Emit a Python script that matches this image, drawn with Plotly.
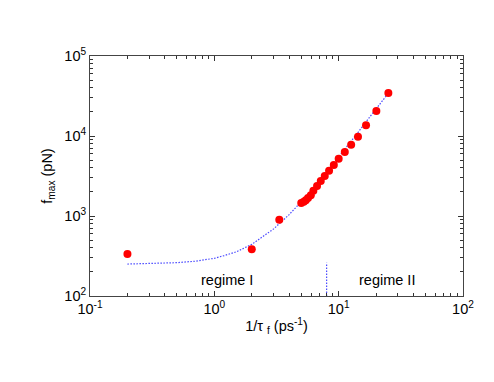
import math
import plotly.graph_objects as go

# data points (1/tau_f in ps^-1, f_max in pN)
inv_tau = [0.2, 2.0, 3.33, 5.0, 5.24, 5.44, 5.67, 5.97, 6.26, 6.70, 7.18, 7.73,
           8.37, 9.14, 10.0, 11.2, 12.6, 14.3, 16.6, 20.1, 25.1]
f_max = [335, 384, 899, 1454, 1509, 1571, 1679, 1815, 2070, 2371, 2738, 3162,
         3684, 4340, 5200, 6310, 7780, 9800, 13600, 20500, 34500]

# fitted curve
fit_x = [0.2, 0.3, 0.5, 0.7, 1.0, 1.2, 1.5, 2.0, 2.5, 3.0, 4.0, 5.0, 6.0, 7.0,
         8.0, 10.0, 12.0, 14.0, 17.0, 20.0, 25.0]
fit_y = [251, 254, 261, 272, 296, 320, 356, 442, 565, 690, 1042, 1500, 2040,
         2755, 3560, 5440, 7850, 10600, 15800, 21760, 34000]

# regime divider
div_x = [8.0, 8.0]
div_y = [100, 260]

x_tickvals = [0.1, 1, 10, 100]
x_ticktext = ["10<sup>-1</sup>", "10<sup>0</sup>", "10<sup>1</sup>", "10<sup>2</sup>"]
y_tickvals = [100, 1000, 10000, 100000]
y_ticktext = ["10<sup>2</sup>", "10<sup>3</sup>", "10<sup>4</sup>", "10<sup>5</sup>"]

regime_labels = ["regime I", "regime II"]
regime_x = [1.27, 24.7]
regime_y = [160, 160]

blue = "#4a4aff"
FONT = "Liberation Sans, Arial, sans-serif"
FS = 14.5

fig = go.Figure()
fig.add_trace(go.Scatter(x=fit_x, y=fit_y, mode="lines",
                         line=dict(color=blue, width=1.2, dash="1.5px,1.5px"),
                         showlegend=False, hoverinfo="skip"))
fig.add_trace(go.Scatter(x=div_x, y=div_y, mode="lines",
                         line=dict(color=blue, width=1.2, dash="1.5px,1.5px"),
                         showlegend=False, hoverinfo="skip"))
fig.add_trace(go.Scatter(x=inv_tau, y=f_max, mode="markers",
                         marker=dict(color="#ff0000", size=8, line=dict(width=0)),
                         showlegend=False))

for t, xx, yy in zip(regime_labels, regime_x, regime_y):
    fig.add_annotation(x=math.log10(xx), y=math.log10(yy), xref="x", yref="y", text=t,
                       showarrow=False, font=dict(family=FONT, size=FS, color="black"),
                       xanchor="center", yanchor="middle")

minor_x = [m * 10 ** e for e in (-1, 0, 1) for m in range(2, 10)]
minor_y = [m * 10 ** e for e in (2, 3, 4) for m in range(2, 10)]

axis_common = dict(type="log", showgrid=False, zeroline=False, showline=True,
                   linecolor="#444444", linewidth=1, mirror="allticks",
                   ticks="inside", ticklen=5, tickcolor="#333333",
                   tickfont=dict(family=FONT, size=FS, color="black"))

fig.update_xaxes(**axis_common, range=[-1, 2], tickvals=x_tickvals, ticktext=x_ticktext,
                 minor=dict(tickvals=minor_x, ticks="inside", ticklen=3, tickcolor="#333333"),
                 title=dict(text="1/τ <sub>f</sub> (ps<sup>-1</sup>)",
                            font=dict(family=FONT, size=FS, color="black"),
                            standoff=4))
fig.update_yaxes(**axis_common, range=[2, 5], tickvals=y_tickvals, ticktext=y_ticktext,
                 minor=dict(tickvals=minor_y, ticks="inside", ticklen=3, tickcolor="#333333"),
                 title=dict(text="f<sub>max</sub> (pN)",
                            font=dict(family=FONT, size=FS, color="black"),
                            standoff=8))

fig.update_layout(width=494, height=382, margin=dict(l=82, r=39, t=48, b=94),
                  paper_bgcolor="white", plot_bgcolor="white",
                  font=dict(family=FONT, size=FS, color="black"))

fig.write_html("out.html")
